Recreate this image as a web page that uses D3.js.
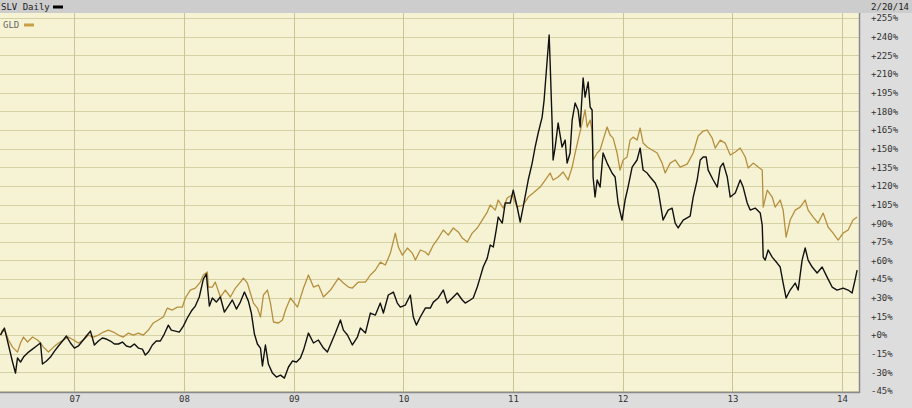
<!DOCTYPE html>
<html><head><meta charset="utf-8">
<script src="https://cdn.jsdelivr.net/npm/d3@7"></script>
<style>
html,body{margin:0;padding:0;background:#dcdcdc;}
svg{display:block;}
text{font-family:"DejaVu Sans Mono",monospace;}
</style></head>
<body>
<svg id="c" width="912" height="408"></svg>
<script>
// ---- data (percent change since 2006-04-28; dates are decimal years) ----
const seriesNames = ["SLV", "GLD"];
const startDate = "2006-04-28";
const endDate = "2014-02-20";
const yearTickLabels = ["07","08","09","10","11","12","13","14"];
const yearTickYears = [2007,2008,2009,2010,2011,2012,2013,2014];
const pctTicks = [-45,-30,-15,0,15,30,45,60,75,90,105,120,135,150,165,180,195,210,225,240,255];

const slvDates = [2006.325,2006.361,2006.398,2006.435,2006.462,2006.480,2006.508,2006.535,2006.581,2006.617,2006.654,2006.690,2006.708,2006.745,2006.781,2006.818,2006.854,2006.891,2006.927,2006.964,2007.000,2007.036,2007.073,2007.109,2007.146,2007.182,2007.219,2007.255,2007.292,2007.328,2007.365,2007.401,2007.438,2007.474,2007.510,2007.547,2007.583,2007.620,2007.647,2007.675,2007.711,2007.747,2007.784,2007.820,2007.857,2007.884,2007.921,2007.957,2007.994,2008.030,2008.067,2008.103,2008.139,2008.176,2008.203,2008.231,2008.258,2008.294,2008.331,2008.367,2008.404,2008.440,2008.477,2008.513,2008.550,2008.586,2008.613,2008.641,2008.668,2008.696,2008.714,2008.741,2008.768,2008.805,2008.841,2008.878,2008.914,2008.951,2008.987,2009.024,2009.060,2009.088,2009.133,2009.179,2009.224,2009.270,2009.306,2009.352,2009.379,2009.425,2009.452,2009.489,2009.534,2009.580,2009.607,2009.653,2009.698,2009.744,2009.789,2009.817,2009.862,2009.908,2009.944,2009.972,2010.017,2010.063,2010.090,2010.118,2010.154,2010.200,2010.245,2010.273,2010.318,2010.364,2010.400,2010.446,2010.491,2010.537,2010.564,2010.610,2010.637,2010.674,2010.701,2010.728,2010.765,2010.792,2010.820,2010.847,2010.865,2010.902,2010.929,2010.975,2011.002,2011.038,2011.066,2011.093,2011.139,2011.175,2011.202,2011.230,2011.266,2011.284,2011.312,2011.330,2011.339,2011.357,2011.366,2011.385,2011.412,2011.448,2011.476,2011.494,2011.521,2011.540,2011.567,2011.594,2011.613,2011.640,2011.658,2011.686,2011.704,2011.722,2011.731,2011.749,2011.768,2011.795,2011.822,2011.859,2011.904,2011.932,2011.959,2011.995,2012.023,2012.050,2012.087,2012.132,2012.160,2012.187,2012.224,2012.251,2012.297,2012.324,2012.369,2012.415,2012.451,2012.479,2012.506,2012.552,2012.615,2012.643,2012.679,2012.707,2012.734,2012.761,2012.779,2012.825,2012.862,2012.889,2012.916,2012.953,2012.980,2013.026,2013.071,2013.098,2013.135,2013.162,2013.208,2013.254,2013.272,2013.281,2013.299,2013.326,2013.363,2013.408,2013.436,2013.463,2013.490,2013.527,2013.573,2013.600,2013.636,2013.664,2013.691,2013.728,2013.773,2013.819,2013.864,2013.910,2013.955,2014.010,2014.056,2014.092,2014.119,2014.138];
const slvPct = [0,5.6,-8.0,-21.7,-30.6,-18.5,-21.7,-17.7,-13.7,-11.3,-8.8,-6.4,-23.3,-20.9,-17.7,-12.9,-8.8,-4.8,-0.8,-6.4,-10.5,-8.8,-4.8,-0.8,3.2,-8.0,-4.8,-2.4,-3.2,-4.8,-7.2,-7.2,-5.6,-8.8,-9.7,-7.2,-10.5,-11.3,-16.1,-13.7,-8.0,-4.8,-4.8,0.8,8.0,4.0,3.2,2.4,7.2,13.7,19.3,23.3,30.6,45.0,49.1,23.3,29.8,26.5,30.6,18.5,23.3,28.2,20.9,26.5,34.6,27.3,17.7,0.8,-7.2,-10.5,-24.9,-8.0,-23.3,-30.6,-33.8,-32.2,-34.6,-25.7,-20.9,-21.7,-18.5,-12.1,1.6,-6.4,-4.0,-10.5,-13.7,-4.0,1.6,12.1,4.0,0,-8.0,-1.6,5.6,1.6,17.7,16.1,25.7,17.7,32.2,34.6,25.7,22.5,24.1,32.2,14.5,8.0,14.5,21.7,21.7,26.5,29.8,36.2,25.7,29.8,33.8,28.2,25.7,28.2,29.8,38.6,46.6,54.7,61.9,72.4,70.8,84.5,94.9,90.1,106.2,106.2,116.6,103.0,90.9,103.0,124.7,138.3,151.2,162.5,175.3,189.0,221.2,241.3,218.8,170.5,140.8,151.2,170.5,151.2,156.8,138.3,146.4,172.9,186.6,181.0,167.3,206.7,191.4,203.5,183.4,181.0,127.1,111.0,124.7,119.0,146.4,138.3,130.3,127.1,106.2,92.5,108.6,119.0,135.1,140.8,150.4,132.7,130.3,127.1,122.3,116.6,92.5,100.5,102.1,90.1,86.1,92.5,95.7,111.0,124.7,140.8,143.2,143.2,132.7,124.7,119.0,135.1,138.3,127.1,111.0,114.2,124.7,119.0,106.2,100.5,102.1,98.1,88.5,62.7,60.3,68.4,62.7,57.9,54.7,41.8,29.8,36.2,41.8,36.2,60.3,70.0,60.3,54.7,49.9,54.7,46.6,38.6,36.2,37.8,36.2,33.8,44.2,52.3];

const gldDates = [2006.325,2006.343,2006.371,2006.398,2006.435,2006.480,2006.508,2006.535,2006.572,2006.617,2006.663,2006.690,2006.717,2006.763,2006.809,2006.854,2006.900,2006.945,2006.991,2007.036,2007.082,2007.128,2007.173,2007.219,2007.264,2007.310,2007.356,2007.401,2007.447,2007.492,2007.538,2007.583,2007.629,2007.675,2007.720,2007.766,2007.811,2007.848,2007.893,2007.939,2007.985,2008.012,2008.057,2008.103,2008.149,2008.176,2008.212,2008.222,2008.258,2008.285,2008.331,2008.376,2008.422,2008.468,2008.513,2008.541,2008.577,2008.604,2008.632,2008.668,2008.696,2008.723,2008.759,2008.787,2008.814,2008.860,2008.896,2008.924,2008.969,2009.033,2009.088,2009.133,2009.179,2009.224,2009.270,2009.334,2009.407,2009.452,2009.498,2009.534,2009.589,2009.653,2009.698,2009.744,2009.789,2009.835,2009.881,2009.926,2009.954,2009.990,2010.036,2010.081,2010.109,2010.154,2010.200,2010.227,2010.273,2010.318,2010.364,2010.409,2010.455,2010.501,2010.537,2010.583,2010.628,2010.674,2010.719,2010.765,2010.792,2010.838,2010.865,2010.911,2010.947,2010.993,2011.038,2011.093,2011.139,2011.184,2011.248,2011.294,2011.339,2011.366,2011.412,2011.458,2011.503,2011.540,2011.567,2011.594,2011.631,2011.658,2011.677,2011.704,2011.722,2011.731,2011.768,2011.795,2011.822,2011.859,2011.886,2011.914,2011.950,2011.977,2012.005,2012.041,2012.068,2012.096,2012.132,2012.160,2012.187,2012.224,2012.269,2012.315,2012.360,2012.388,2012.433,2012.479,2012.524,2012.588,2012.643,2012.688,2012.734,2012.770,2012.816,2012.843,2012.889,2012.934,2012.980,2013.026,2013.071,2013.117,2013.144,2013.190,2013.235,2013.272,2013.281,2013.318,2013.363,2013.390,2013.436,2013.463,2013.490,2013.527,2013.573,2013.618,2013.664,2013.691,2013.737,2013.782,2013.828,2013.873,2013.919,2013.965,2014.010,2014.056,2014.101,2014.138];
const gldPct = [0,4.0,2.4,-4.0,-9.7,-13.7,-6.4,-1.6,-5.6,-1.6,-4.0,-6.4,-9.7,-13.7,-9.7,-6.4,-4.0,-1.6,-4.0,-6.4,-4.0,0,-1.6,0,2.4,4.0,2.4,0,-1.6,1.6,0,1.6,0,4.0,9.7,12.1,14.5,21.7,20.1,22.5,22.5,29.8,36.2,37.8,42.6,48.3,50.7,38.6,38.6,42.6,30.6,36.2,30.6,37.8,42.6,45.8,41.8,33.8,25.7,21.7,14.5,32.2,36.2,25.7,10.5,9.7,12.1,20.1,29.8,22.5,37.8,48.3,38.6,40.2,30.6,36.2,45.8,41.8,38.6,37.8,42.6,42.6,48.3,52.3,58.7,56.3,65.9,82.0,70.8,64.3,70.0,65.9,60.3,68.4,66.8,64.3,72.4,78.0,84.5,80.4,86.1,82.9,78.0,74.8,82.0,86.1,92.5,98.9,104.6,100.5,108.6,102.1,110.2,112.6,103.0,104.6,111.0,114.2,119.0,124.7,130.3,124.7,127.1,131.1,124.7,135.1,146.4,156.8,170.5,181.0,167.3,172.9,164.9,140.8,146.4,148.8,156.8,167.3,160.9,158.4,146.4,132.7,140.8,143.2,156.8,159.2,156.8,166.5,154.4,151.2,148.8,146.4,138.3,130.3,138.3,140.8,135.1,137.5,146.4,160.1,164.1,164.9,158.4,150.4,156.8,154.4,144.8,147.2,150.4,143.2,134.3,138.3,135.1,132.7,102.9,116.6,111.0,102.9,108.6,100.5,78.8,92.5,100.5,102.9,108.6,100.5,94.9,90.1,98.1,86.9,82.0,76.4,82.0,84.5,92.5,94.9];

// ---- helpers ----
function yrToDate(v) {
  const y = Math.floor(v);
  const a = new Date(y, 0, 1), b = new Date(y + 1, 0, 1);
  return new Date(+a + (v - y) * (b - a));
}
const slv = slvDates.map((d, i) => ({date: yrToDate(d), v: slvPct[i]}));
const gld = gldDates.map((d, i) => ({date: yrToDate(d), v: gldPct[i]}));

const W = 912, H = 408;
const plot = {left: 0, right: 859, top: 13, bottom: 392};
const svg = d3.select("#c");
const labelFont = "Liberation Sans, Arial, sans-serif";

const x = d3.scaleTime()
  .domain([d3.timeParse("%Y-%m-%d")(startDate), d3.timeParse("%Y-%m-%d")(endDate)])
  .range([0, 857]);
const y = d3.scaleLinear().domain([-45, 255]).range([391, 18]);

// backgrounds
svg.append("rect").attr("x", 0).attr("y", 0).attr("width", W).attr("height", H).attr("fill", "#dddddd");
svg.append("rect").attr("x", 0).attr("y", 0).attr("width", W).attr("height", plot.top).attr("fill", "#cdcdcd");
svg.append("rect").attr("x", plot.left).attr("y", plot.top)
  .attr("width", plot.right - plot.left).attr("height", plot.bottom - plot.top)
  .attr("fill", "#f6f3d4");

// grid: horizontal
svg.append("g").attr("transform", `translate(${plot.left},0)`)
  .call(d3.axisRight(y).tickValues(pctTicks).tickSize(plot.right - plot.left).tickFormat(""))
  .call(g => g.select(".domain").remove())
  .call(g => g.selectAll("line").attr("stroke", "#d5d1a4").attr("stroke-width", 1).attr("shape-rendering", "crispEdges"));

// grid: vertical
const yearDates = yearTickYears.map(yr => new Date(yr, 0, 1));
svg.append("g").attr("transform", `translate(0,${plot.top})`)
  .call(d3.axisBottom(x).tickValues(yearDates).tickSize(plot.bottom - plot.top).tickFormat(""))
  .call(g => g.select(".domain").remove())
  .call(g => g.selectAll("line").attr("stroke", "#c9c596").attr("stroke-width", 1).attr("shape-rendering", "crispEdges"));

// lines
svg.append("clipPath").attr("id", "pc").append("rect")
  .attr("x", plot.left).attr("y", plot.top).attr("width", plot.right - plot.left).attr("height", plot.bottom - plot.top);
const line = d3.line().x(d => x(d.date)).y(d => y(d.v));
const lg = svg.append("g").attr("clip-path", "url(#pc)");
lg.append("path").datum(gld).attr("d", line).attr("fill", "none")
  .attr("stroke", "#b68f3e").attr("stroke-width", 1.3).attr("stroke-linejoin", "round");
lg.append("path").datum(slv).attr("d", line).attr("fill", "none")
  .attr("stroke", "#111").attr("stroke-width", 1.4).attr("stroke-linejoin", "round");

// plot border (right & bottom)
svg.append("line").attr("x1", plot.right + 0.5).attr("x2", plot.right + 0.5).attr("y1", plot.top).attr("y2", plot.bottom + 1)
  .attr("stroke", "#8a8a8a").attr("stroke-width", 1.5);
svg.append("line").attr("x1", 0).attr("x2", plot.right + 1).attr("y1", plot.bottom + 0.5).attr("y2", plot.bottom + 0.5)
  .attr("stroke", "#8a8a8a").attr("stroke-width", 1.5);

// right axis labels
const ya = svg.append("g").attr("transform", `translate(870,0)`)
  .call(d3.axisRight(y).tickValues(pctTicks).tickSize(0).tickPadding(1)
    .tickFormat(d => (d >= 0 ? "+" : "") + d + "%"));
ya.select(".domain").remove();
ya.selectAll("text").attr("fill", "#333").attr("font-size", 9).attr("font-family", labelFont);

// bottom axis labels
const xa = svg.append("g").attr("transform", `translate(0,${plot.bottom})`)
  .call(d3.axisBottom(x).tickValues(yearDates).tickSize(0).tickPadding(4)
    .tickFormat((d, i) => yearTickLabels[i]));
xa.select(".domain").remove();
xa.selectAll("text").attr("fill", "#333").attr("font-size", 9).attr("font-family", labelFont);

// header / legend
svg.append("text").attr("x", 1).attr("y", 10).attr("font-size", 9).attr("fill", "#222").text(seriesNames[0] + " Daily");
svg.append("rect").attr("x", 53).attr("y", 5.5).attr("width", 10).attr("height", 3).attr("fill", "#000");
svg.append("text").attr("x", 3).attr("y", 28).attr("font-size", 9).attr("fill", "#666").text(seriesNames[1]);
svg.append("rect").attr("x", 24).attr("y", 23.5).attr("width", 10).attr("height", 3).attr("fill", "#c8a048");
svg.append("text").attr("x", 909).attr("y", 10).attr("text-anchor", "end").attr("font-size", 9).attr("fill", "#222")
  .text(d3.timeFormat("%-m/%-d/%y")(d3.timeParse("%Y-%m-%d")(endDate)));
</script>
</body></html>
